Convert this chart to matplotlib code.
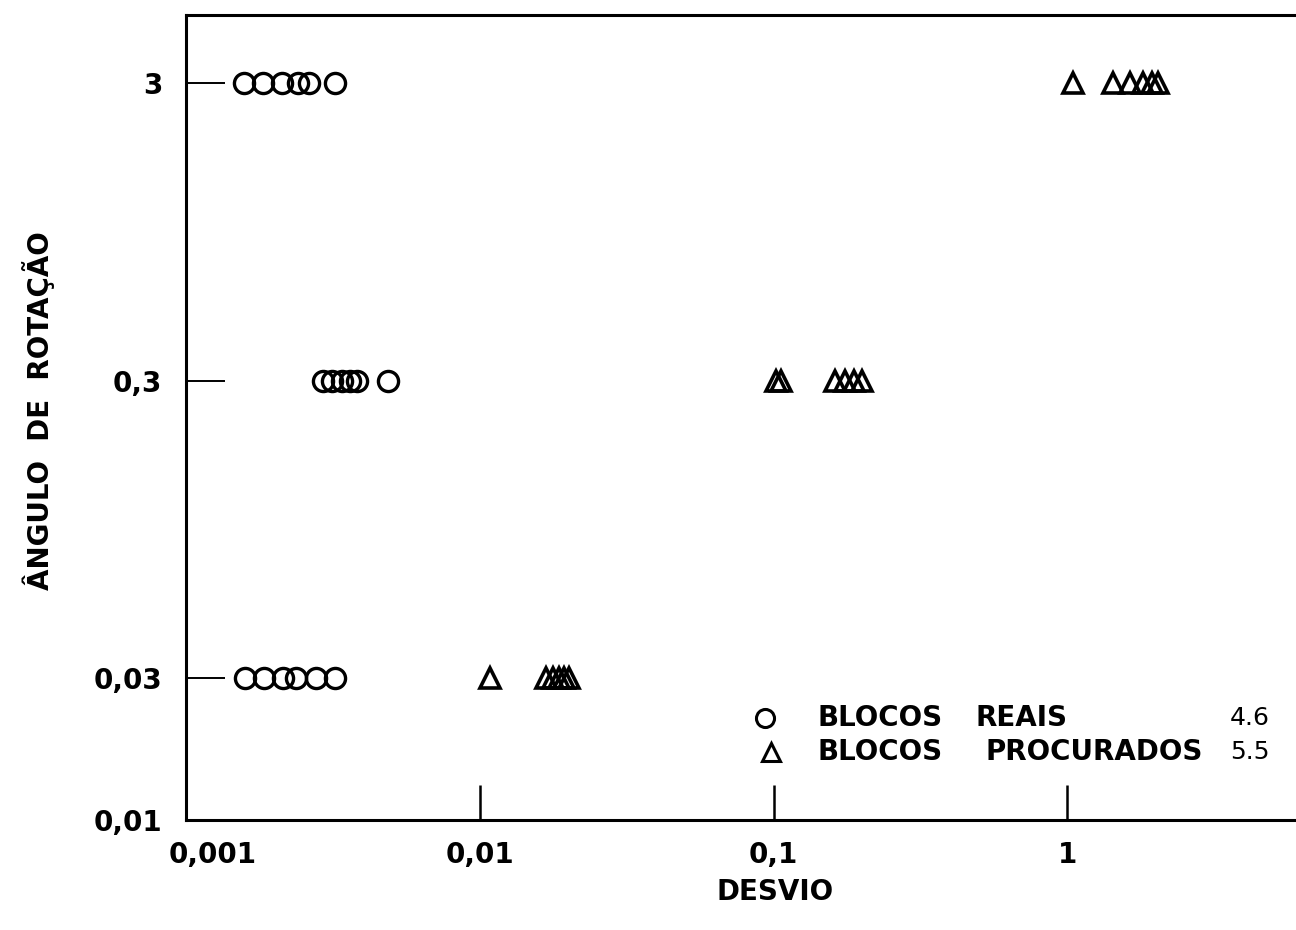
import matplotlib.pyplot as plt
import matplotlib.transforms as mtransforms

# data (desvio vs angulo de rotacao)
angles = [0.03, 0.3, 3]

reais = {
    0.03: [0.00159, 0.00184, 0.00214, 0.00237, 0.00277, 0.00322],
    0.3: [0.00293, 0.00314, 0.00340, 0.00361, 0.00382, 0.00487],
    3: [0.00158, 0.00183, 0.00212, 0.00241, 0.00262, 0.00322],
}
procurados = {
    0.03: [0.01084, 0.01682, 0.01777, 0.01862, 0.01937, 0.02014],
    0.3: [0.1020, 0.1062, 0.1621, 0.1753, 0.1881, 0.2003],
    3: [1.047, 1.433, 1.636, 1.812, 1.944, 2.038],
}

xticks = [0.001, 0.01, 0.1, 1]
xlabels = ['0,001', '0,01', '0,1', '1']
yticks = [0.01, 0.03, 0.3, 3]
ylabels = ['0,01', '0,03', '0,3', '3']

legend_rows = [('o', 'BLOCOS', 'REAIS', '4.6'),
               ('^', 'BLOCOS', 'PROCURADOS', '5.5')]

plt.rcParams['font.family'] = ['DejaVu Sans']
plt.rcParams['font.weight'] = 'bold'

fig = plt.figure(figsize=(12.96, 9.30), dpi=100)
ax = fig.add_axes([0.1435, 0.1183, 0.8565, 0.8656])

for a in angles:
    ax.plot(reais[a], [a] * len(reais[a]), 'o', ms=14.5, mfc='none',
            mec='black', mew=2.4, ls='none')
    ax.plot(procurados[a], [a] * len(procurados[a]), '^', ms=14.5, mfc='none',
            mec='black', mew=2.6, ls='none')

ax.set_xscale('log')
ax.set_yscale('log')
ax.set_xlim(0.001, 6.0)
ax.set_ylim(0.01, 5.1)
ax.minorticks_off()

ax.set_xticks(xticks)
ax.set_xticklabels(xlabels, fontsize=20, fontweight='bold')
ax.set_yticks(yticks)
ax.set_yticklabels(ylabels, fontsize=20, fontweight='bold')
ax.tick_params(axis='x', direction='in', length=25, width=1.8, pad=15)
ax.tick_params(axis='y', direction='in', length=28, width=1.4, pad=17)
ax.xaxis.get_major_ticks()[0].tick1line.set_visible(False)
ax.yaxis.get_major_ticks()[0].tick1line.set_visible(False)

# the first x label sits a bit right of the corner in the original
lab0 = ax.get_xticklabels()[0]
lab0.set_transform(lab0.get_transform() +
                   mtransforms.ScaledTranslation(0.27, 0, fig.dpi_scale_trans))

for s in ['left', 'bottom', 'top']:
    ax.spines[s].set_linewidth(2.2)
ax.spines['right'].set_visible(False)

ax.set_xlabel('DESVIO', fontsize=20, fontweight='bold')
ax.xaxis.set_label_coords(0.5306, -0.072)
ax.set_ylabel('ÂNGULO  DE  ROTAÇÃO', fontsize=20, fontweight='bold')
ax.yaxis.set_label_coords(-0.118, 0.509)

# hand-lettered legend, lower right
word2_x = [0.711, 0.72]
mark_x = [0.522, 0.527]
for i, (m, w1, w2, val) in enumerate(legend_rows):
    yy = 0.127 - i * 0.0425
    ax.plot([mark_x[i]], [yy], m, ms=13, mfc='none', mec='black', mew=2.2,
            transform=ax.transAxes, clip_on=False)
    ax.text(0.569, yy, w1, transform=ax.transAxes, fontsize=20,
            fontweight='bold', va='center')
    ax.text(word2_x[i], yy, w2, transform=ax.transAxes, fontsize=20,
            fontweight='bold', va='center')
    ax.text(0.9405, yy, val, transform=ax.transAxes, fontsize=18,
            fontweight='normal', va='center')

fig.savefig('out.png', dpi=100)
